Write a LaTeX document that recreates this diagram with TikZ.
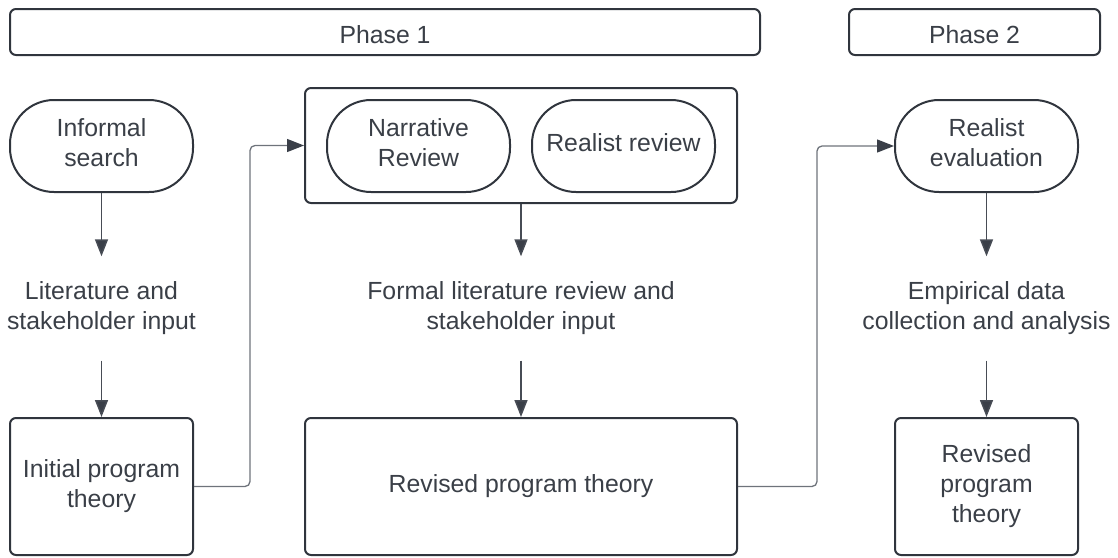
\documentclass[tikz,border=0pt]{standalone}
\usepackage{fontspec}
\setmainfont{Liberation Sans}
\usetikzlibrary{arrows.meta}

\definecolor{edgeink}{HTML}{30353D}
\definecolor{textink}{HTML}{3A3F47}
\definecolor{wireink}{HTML}{6E737B}
\definecolor{flowink}{HTML}{474C55}
\definecolor{tipink}{HTML}{3A3F48}

\tikzset{
  every node/.style={text=textink, font=\fontsize{24.8}{30}\selectfont, align=center, inner sep=0pt},
  phasebar/.style={draw=edgeink, line width=2pt, rounded corners=6pt, minimum height=46pt},
  phasetext/.style={yshift=-3pt},
  pill/.style={draw=edgeink, line width=2pt, rounded corners=44pt, minimum width=183pt, minimum height=92pt},
  pilltext/.style={yshift=3.5pt},
  stagebox/.style={draw=edgeink, line width=2pt, rounded corners=6pt, minimum height=137pt},
  holder/.style={draw=edgeink, line width=2pt, rounded corners=6pt, minimum width=432pt, minimum height=115pt},
  steptext/.style={minimum height=104pt},
  flow/.style={draw=flowink, line width=1.5pt, -{Triangle[length=17pt, width=13pt, fill=tipink]}},
  wire/.style={draw=wireink, line width=1.3pt, rounded corners=5pt, -{Triangle[length=17pt, width=13pt, fill=tipink, color=tipink]}}
}

\begin{document}
\begin{tikzpicture}[x=1pt, y=-1pt]
  \useasboundingbox (0,0) rectangle (1118,557);

  % phase headers
  \node[phasebar, minimum width=750pt, label={[phasetext]center:Phase 1}] (phaseone) at (385,32) {};
  \node[phasebar, minimum width=251pt, label={[phasetext]center:Phase 2}] (phasetwo) at (974.5,32) {};

  % first column
  \node[pill, label={[pilltext]center:{Informal\\search}}] (informal) at (101.5,146) {};
  \node[steptext] (litinput) at (101.5,308.5) {Literature and\\stakeholder input};
  \node[stagebox, minimum width=183pt] (initial) at (101.5,486.5) {Initial program\\theory};

  % second column
  \node[holder] (reviews) at (521,145.5) {};
  \node[pill, label={[pilltext]center:{Narrative\\Review}}] (narrative) at (418.5,146) {};
  \node[pill, label={[pilltext]center:Realist review}] (realistrev) at (623.5,146) {};
  \node[steptext] (formal) at (521,308.5) {Formal literature review and\\stakeholder input};
  \node[stagebox, minimum width=432pt] (revised) at (521,486.5) {Revised program theory};

  % third column
  \node[pill, label={[pilltext]center:{Realist\\evaluation}}] (evaluation) at (986.5,146) {};
  \node[steptext] (empirical) at (986.5,308.5) {Empirical data\\collection and analysis};
  \node[stagebox, minimum width=183pt] (revisedtwo) at (986.5,486.5) {Revised\\program\\theory};

  % vertical flow
  \draw[flow] (informal) -- (litinput);
  \draw[flow] (litinput) -- (initial);
  \draw[flow] (reviews) -- (formal);
  \draw[flow] (formal) -- (revised);
  \draw[flow] (evaluation) -- (empirical);
  \draw[flow] (empirical) -- (revisedtwo);

  % elbow connectors between columns
  \draw[wire] (initial.east) -- ++(56,0) |- (reviews.west);
  \draw[wire] (revised.east) -- ++(79,0) |- (evaluation.west);
\end{tikzpicture}
\end{document}
